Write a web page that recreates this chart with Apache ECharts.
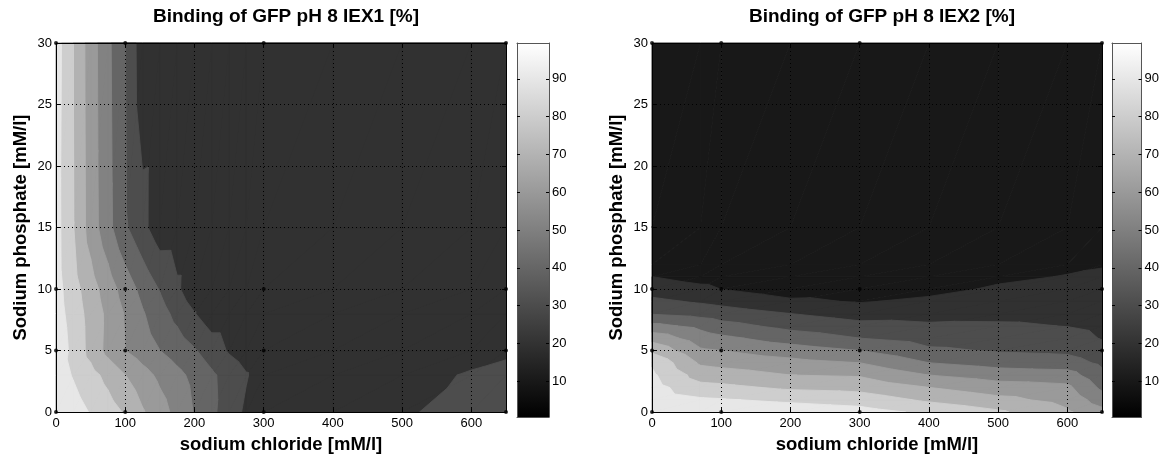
<!DOCTYPE html>
<html><head><meta charset="utf-8">
<script src="https://cdn.jsdelivr.net/npm/echarts@6/dist/echarts.min.js"></script>
<style>html,body{margin:0;padding:0;background:#fff}#c{width:1162px;height:459px}</style>
</head><body><div id="c"></div>
<script>
// ---------------- data ----------------
const chartTitles = ['Binding of GFP pH 8 IEX1 [%]', 'Binding of GFP pH 8 IEX2 [%]'];
const xAxisTitle = 'sodium chloride [mM/l]';
const yAxisTitle = 'Sodium phosphate [mM/l]';
const xTicks = [0, 100, 200, 300, 400, 500, 600];
const yTicks = [0, 5, 10, 15, 20, 25, 30];
const colorbarTicks = [10, 20, 30, 40, 50, 60, 70, 80, 90];
const colorbarRange = [0.5, 99.5];
const contourLevels = [10, 20, 30, 40, 50, 60, 70, 80, 90];
// measured points (black dots)
const measuredNaCl = [0, 100, 300, 650];
const measuredPhosphate = [0, 5, 10, 30];

// IEX1 binding [%] on a sampling grid
const iex1NaCl = [0, 25, 50, 75, 100, 125, 150, 175, 200, 225, 250, 275, 300, 400, 500, 600, 650];
const iex1Phosphate = [0, 3, 5, 8, 10, 15, 30];
const iex1Binding = [
  [99.4, 94.4, 89.4, 84.4, 79.0, 71.0, 64.1, 57.0, 49.4, 42.1, 35.0, 28.1, 26.0, 26.0, 28.5, 34.5, 37.0],
  [95.1, 89.3, 83.5, 77.1, 70.2, 63.8, 57.9, 52.7, 47.3, 41.6, 36.1, 30.7, 25.2, 25.0, 27.0, 30.8, 32.5],
  [97.2, 87.2, 76.8, 67.1, 60.1, 55.0, 50.1, 45.5, 40.9, 35.1, 29.0, 25.0, 24.5, 24.5, 25.0, 27.0, 28.5],
  [94.8, 85.6, 76.4, 67.7, 59.3, 51.0, 44.1, 37.1, 30.5, 24.5, 24.5, 24.5, 24.5, 24.5, 24.5, 24.5, 24.5],
  [94.0, 84.0, 74.4, 65.0, 55.6, 47.0, 39.4, 31.6, 23.6, 24.5, 24.5, 24.5, 24.5, 24.5, 24.5, 24.5, 24.5],
  [93.7, 80.5, 65.6, 53.2, 41.4, 32.7, 24.3, 24.5, 24.5, 24.5, 24.5, 24.5, 24.5, 24.5, 24.5, 24.5, 24.5],
  [94.7, 80.0, 65.0, 52.3, 40.1, 24.0, 24.5, 24.5, 24.5, 24.5, 24.5, 24.5, 24.5, 24.5, 24.5, 24.5, 24.5]
];

// IEX2 binding [%]
const iex2NaCl = [0, 70, 100, 200, 300, 400, 500, 600, 650];
const iex2Phosphate = [0, 1, 2, 3, 4, 5, 6, 7, 8, 9, 10, 11, 12, 15, 30];
const iex2Binding = [
  [98.0, 99.0, 98.8, 96.4, 94.0, 88.0, 81.6, 71.4, 63.3],
  [95.9, 91.5, 90.8, 88.0, 85.5, 78.3, 72.7, 66.8, 55.0],
  [93.9, 83.3, 82.5, 78.3, 76.9, 70.1, 64.6, 62.3, 48.0],
  [91.8, 75.7, 74.6, 70.1, 69.1, 60.1, 55.6, 54.4, 43.0],
  [88.9, 68.6, 67.1, 63.3, 60.1, 50.1, 46.2, 44.5, 38.1],
  [77.8, 61.4, 60.1, 55.0, 50.1, 41.7, 39.2, 37.9, 33.3],
  [66.3, 55.0, 52.3, 45.5, 40.1, 36.2, 35.2, 33.8, 29.5],
  [52.9, 47.5, 43.6, 37.1, 32.9, 31.4, 31.2, 29.8, 27.8],
  [39.3, 36.7, 35.0, 30.1, 26.0, 26.7, 27.7, 27.4, 26.2],
  [32.1, 28.8, 27.1, 21.7, 19.3, 21.9, 24.5, 25.1, 24.5],
  [25.9, 22.5, 19.9, 15.0, 16.0, 17.2, 21.3, 22.8, 22.8],
  [20.1, 16.3, 16.0, 14.5, 15.0, 16.0, 18.1, 20.5, 21.2],
  [16.0, 15.0, 15.0, 14.0, 14.5, 15.0, 16.5, 18.0, 19.5],
  [14.0, 14.0, 14.0, 13.0, 13.0, 13.5, 14.0, 15.0, 16.0],
  [12.0, 12.0, 12.0, 12.0, 12.0, 12.0, 12.0, 12.5, 13.0]
];

// ---------------- helpers ----------------
const FONT = '"Liberation Sans", Arial, sans-serif';

// MATLAB-like gray(64) colour for a level, clim = colorbarRange
function levelColor(L) {
  const a = colorbarRange[0], b = colorbarRange[1];
  let idx = Math.floor((L - a) / (b - a) * 64);
  idx = Math.max(0, Math.min(63, idx));
  const g = Math.round(idx / 63 * 255);
  return 'rgb(' + g + ',' + g + ',' + g + ')';
}
const bandColors = contourLevels.map(levelColor);

function clipTri(t, L) {
  const out = [];
  for (let m = 0; m < t.length; m++) {
    const a = t[m], b = t[(m + 1) % t.length];
    const ain = a.v >= L, bin = b.v >= L;
    if (ain) out.push(a.p);
    if (ain !== bin) {
      const f = (L - a.v) / (b.v - a.v);
      out.push([a.p[0] + f * (b.p[0] - a.p[0]), a.p[1] + f * (b.p[1] - a.p[1])]);
    }
  }
  return out;
}

// one item per (level, cell), ordered by level so that every band is painted
// over the whole field before the next brighter band
function cellData(gx, gy) {
  const d = [];
  for (let k = 0; k < contourLevels.length; k++)
    for (let j = 0; j < gy.length - 1; j++)
      for (let i = 0; i < gx.length - 1; i++)
        d.push([(gx[i] + gx[i + 1]) / 2, (gy[j] + gy[j + 1]) / 2, i, j, k]);
  return d;
}

function contourRender(gx, gy, gz) {
  return function (params, api) {
    const i = api.value(2), j = api.value(3), k = api.value(4);
    const L = contourLevels[k];
    const c = [[i, j], [i + 1, j], [i + 1, j + 1], [i, j + 1]].map(function (q) {
      return { p: api.coord([gx[q[0]], gy[q[1]]]), v: gz[q[1]][q[0]] };
    });
    const tris = [[c[0], c[1], c[2]], [c[0], c[2], c[3]]];
    const children = [];
    tris.forEach(function (t) {
      const poly = clipTri(t, L);
      if (poly.length >= 3) children.push({
        type: 'polygon', shape: { points: poly }, silent: true,
        style: { fill: bandColors[k], stroke: bandColors[k], lineWidth: 0.9 }
      });
    });
    return { type: 'group', children: children };
  };
}

// ---------------- layout ----------------
const plotLeft = [56, 652];
const plotTop = 43, plotH = 374, plotW = 450;
const cbLeft = [517, 1112], cbW = 32;

const grids = [], xAxes = [], yAxes = [], series = [], titles = [];
const datasets = [
  { gx: iex1NaCl, gy: iex1Phosphate, gz: iex1Binding },
  { gx: iex2NaCl, gy: iex2Phosphate, gz: iex2Binding }
];
const measuredPts = [];
measuredPhosphate.forEach(function (y) { measuredNaCl.forEach(function (x) { measuredPts.push([x, y]); }); });

for (let p = 0; p < 2; p++) {
  grids.push({ left: plotLeft[p], top: plotTop, width: plotW, height: plotH });
  const g = grids.length - 1;
  const tickStyle = { show: true, inside: true, length: 4, lineStyle: { color: '#000', width: 1 } };
  xAxes.push({
    gridIndex: g, type: 'value', min: 0, max: 650, position: 'bottom', z: 10,
    axisLine: { show: true, onZero: false, lineStyle: { color: '#000', width: 1 } },
    axisTick: Object.assign({ customValues: xTicks }, tickStyle),
    axisLabel: { customValues: xTicks, color: '#000', fontSize: 13, fontFamily: FONT, margin: 5 },
    splitLine: { show: true, lineStyle: { color: '#000', width: 1, type: [1, 3] } },
    name: xAxisTitle, nameLocation: 'middle', nameGap: 21,
    nameTextStyle: { color: '#000', fontSize: 18.5, fontWeight: 'bold', fontFamily: FONT }
  });
  xAxes.push({
    gridIndex: g, type: 'value', min: 0, max: 650, position: 'top', z: 10,
    axisLine: { show: true, onZero: false, lineStyle: { color: '#000', width: 1 } },
    axisTick: Object.assign({ customValues: xTicks }, tickStyle),
    axisLabel: { show: false }, splitLine: { show: false }
  });
  yAxes.push({
    gridIndex: g, type: 'value', min: 0, max: 30, position: 'left', z: 10,
    axisLine: { show: true, onZero: false, lineStyle: { color: '#000', width: 1 } },
    axisTick: Object.assign({ customValues: yTicks }, tickStyle),
    axisLabel: { customValues: yTicks, color: '#000', fontSize: 13, fontFamily: FONT, margin: 4 },
    splitLine: { show: true, lineStyle: { color: '#000', width: 1, type: [1, 3] } },
    name: yAxisTitle, nameLocation: 'middle', nameGap: 26, nameRotate: 90,
    nameTextStyle: { color: '#000', fontSize: 18.5, fontWeight: 'bold', fontFamily: FONT }
  });
  yAxes.push({
    gridIndex: g, type: 'value', min: 0, max: 30, position: 'right', z: 10,
    axisLine: { show: true, onZero: false, lineStyle: { color: '#000', width: 1 } },
    axisTick: Object.assign({ customValues: yTicks }, tickStyle),
    axisLabel: { show: false }, splitLine: { show: false }
  });
  const d = datasets[p];
  series.push({
    type: 'custom', xAxisIndex: 2 * p, yAxisIndex: 2 * p, z: 1, silent: true,
    dimensions: ['x', 'y', 'i', 'j', 'k'], encode: { x: 0, y: 1 },
    data: cellData(d.gx, d.gy), renderItem: contourRender(d.gx, d.gy, d.gz)
  });
  series.push({
    type: 'scatter', xAxisIndex: 2 * p, yAxisIndex: 2 * p, z: 20, silent: true,
    symbol: 'circle', symbolSize: 4, itemStyle: { color: '#000' }, data: measuredPts
  });
  titles.push({
    text: chartTitles[p], left: plotLeft[p] + plotW / 2, top: 2, textAlign: 'center',
    textStyle: { color: '#000', fontSize: 19, fontWeight: 'bold', fontFamily: FONT }
  });
}

// colorbars
for (let q = 0; q < 2; q++) {
  grids.push({ left: cbLeft[q], top: plotTop, width: cbW, height: plotH });
  const g = grids.length - 1;
  const xi = xAxes.length;
  xAxes.push({ gridIndex: g, type: 'value', min: 0, max: 1, show: false });
  const yi = yAxes.length;
  const cbTick = { show: true, inside: true, length: 3, customValues: colorbarTicks, lineStyle: { color: '#000', width: 1 } };
  yAxes.push({
    gridIndex: g, type: 'value', min: colorbarRange[0], max: colorbarRange[1], position: 'left', z: 10,
    axisLine: { show: true, onZero: false, lineStyle: { color: '#555', width: 1 } },
    axisTick: cbTick, axisLabel: { show: false }, splitLine: { show: false }
  });
  yAxes.push({
    gridIndex: g, type: 'value', min: colorbarRange[0], max: colorbarRange[1], position: 'right', z: 10,
    axisLine: { show: true, onZero: false, lineStyle: { color: '#555', width: 1 } },
    axisTick: cbTick,
    axisLabel: { customValues: colorbarTicks, color: '#000', fontSize: 13, fontFamily: FONT, margin: 3 },
    splitLine: { show: false }
  });
  xAxes.push({ gridIndex: g, type: 'value', min: 0, max: 1, show: true, position: 'top', z: 10,
    axisLine: { show: true, onZero: false, lineStyle: { color: '#555', width: 1 } },
    axisTick: { show: false }, axisLabel: { show: false }, splitLine: { show: false } });
  xAxes.push({ gridIndex: g, type: 'value', min: 0, max: 1, show: true, position: 'bottom', z: 10,
    axisLine: { show: true, onZero: false, lineStyle: { color: '#555', width: 1 } },
    axisTick: { show: false }, axisLabel: { show: false }, splitLine: { show: false } });
  series.push({
    type: 'custom', xAxisIndex: xi, yAxisIndex: yi, z: 1, silent: true,
    data: [[0, colorbarRange[0], 1, colorbarRange[1]]],
    encode: { x: [0, 2], y: [1, 3] },
    renderItem: function (params, api) {
      const tl = api.coord([api.value(0), api.value(3)]);
      const br = api.coord([api.value(2), api.value(1)]);
      return {
        type: 'rect', shape: { x: tl[0], y: tl[1], width: br[0] - tl[0], height: br[1] - tl[1] },
        style: { fill: new echarts.graphic.LinearGradient(0, 0, 0, 1, [{ offset: 0, color: '#ffffff' }, { offset: 1, color: '#000000' }]) }
      };
    }
  });
}

const chart = echarts.init(document.getElementById('c'), null, { renderer: 'canvas' });
chart.setOption({
  animation: false, backgroundColor: '#fff',
  title: titles, grid: grids, xAxis: xAxes, yAxis: yAxes, series: series
});
</script></body></html>
